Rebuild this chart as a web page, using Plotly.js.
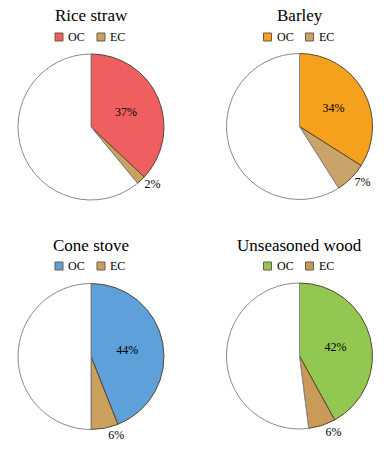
<!DOCTYPE html>
<html><head><meta charset="utf-8">
<script src="https://cdn.plot.ly/plotly-3.0.1.min.js"></script>
<style>html,body{margin:0;padding:0;background:#fff}</style>
</head><body><div id="chart" style="width:384px;height:455px"></div>
<script>
var titles = ["Rice straw", "Barley", "Cone stove", "Unseasoned wood"];
var labels = ["OC", "EC", "Other"];
var ocValues = [37, 34, 44, 42];
var ecValues = [2, 7, 6, 6];
var otherValues = [61, 59, 50, 52];
var ocColors = ["#F05F60", "#F5A11E", "#5DA0DA", "#92C851"];
var ecColors = ["#C9A160", "#C9A46A", "#C9A05C", "#C99A58"];

(function () {
var W = 384, H = 455;
var centers = [[91, 127], [299.5, 126.5], [91, 356.5], [299.5, 356]];
var R = 73;
var serif = "Liberation Serif";

var data = [], shapes = [], annotations = [];
for (var i = 0; i < 4; i++) {
  var cx = centers[i][0], cy = centers[i][1];
  var vals = [ocValues[i], ecValues[i], otherValues[i]];
  data.push({
    type: "pie",
    labels: labels,
    values: vals,
    sort: false,
    direction: "clockwise",
    rotation: 0,
    showlegend: false,
    hoverinfo: "none",
    text: [vals[0] + "%", vals[1] + "%", ""],
    textinfo: "text",
    textposition: ["inside", "outside", "none"],
    insidetextorientation: "horizontal",
    textfont: {family: serif, size: 12, color: "#000"},
    marker: {
      colors: [ocColors[i], ecColors[i], "#FFFFFF"],
      line: {color: ["#5a4632", "#5a4632", "#8a8a8a"], width: 1}
    },
    domain: {
      x: [(cx - R) / W, (cx + R) / W],
      y: [1 - (cy + R) / H, 1 - (cy - R) / H]
    }
  });
  var topY = (i < 2) ? 0 : 229;
  annotations.push({
    xref: "paper", yref: "paper", x: cx / W, y: 1 - (topY + 16) / H,
    text: titles[i], showarrow: false, xanchor: "center", yanchor: "middle",
    font: {family: serif, size: 17, color: "#000"}
  });
  var ly = topY + 37;
  var items = [[ocColors[i], "OC", cx - 36], [ecColors[i], "EC", cx + 6]];
  for (var k = 0; k < 2; k++) {
    var sx = items[k][2];
    shapes.push({
      type: "rect", xref: "paper", yref: "paper",
      x0: sx / W, x1: (sx + 8) / W, y0: 1 - (ly + 4) / H, y1: 1 - (ly - 4) / H,
      fillcolor: items[k][0], line: {color: "#6b5a48", width: 1}
    });
    annotations.push({
      xref: "paper", yref: "paper", x: (sx + 11) / W, y: 1 - ly / H,
      text: items[k][1], showarrow: false, xanchor: "left", yanchor: "middle",
      font: {family: serif, size: 12, color: "#000"}
    });
  }
}

var layout = {
  width: W, height: H,
  margin: {l: 0, r: 0, t: 0, b: 0},
  paper_bgcolor: "#fff",
  showlegend: false,
  shapes: shapes,
  annotations: annotations
};
Plotly.newPlot("chart", data, layout, {displayModeBar: false, staticPlot: true});
})();
</script></body></html>
